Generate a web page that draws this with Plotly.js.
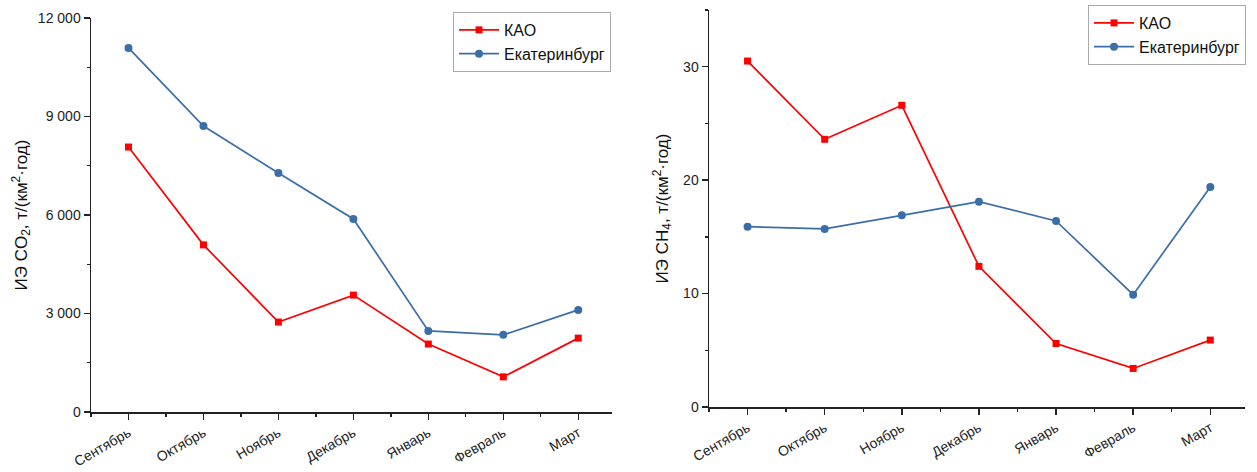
<!DOCTYPE html>
<html><head><meta charset="utf-8">
<script src="https://cdn.plot.ly/plotly-3.0.1.min.js"></script>
<style>html,body{margin:0;padding:0;background:#fff}#chart{width:1257px;height:472px}</style>
</head><body><div id="chart"></div>
<script>
const months = ['Сентябрь','Октябрь','Ноябрь','Декабрь','Январь','Февраль','Март'];
const seriesNames = ['КАО','Екатеринбург'];
const co2_KAO = [8070, 5090, 2740, 3560, 2070, 1070, 2250];
const co2_EKB = [11090, 8710, 7280, 5880, 2470, 2350, 3110];
const ch4_KAO = [30.5, 23.6, 26.6, 12.4, 5.6, 3.4, 5.9];
const ch4_EKB = [15.9, 15.7, 16.9, 18.1, 16.4, 9.9, 19.4];

const idx = months.map((_, i) => i);
const RED = '#ff0000', BLUE = '#3b6ea8';
const font = 'Liberation Sans, Arial, sans-serif';

function tr(y, name, color, sym, xa, ya, leg) {
  return {x: idx, y: y, name: name, type: 'scatter', mode: 'lines+markers',
    xaxis: xa, yaxis: ya, legend: leg,
    line: {color: color, width: 1.7},
    marker: {color: color, symbol: sym, size: sym === 'square' ? 7 : 8}};
}
const data = [
  tr(co2_KAO, seriesNames[0], RED, 'square', 'x', 'y', 'legend'),
  tr(co2_EKB, seriesNames[1], BLUE, 'circle', 'x', 'y', 'legend'),
  tr(ch4_KAO, seriesNames[0], RED, 'square', 'x2', 'y2', 'legend2'),
  tr(ch4_EKB, seriesNames[1], BLUE, 'circle', 'x2', 'y2', 'legend2')
];

function xax(dom, anchor) {
  return {domain: dom, anchor: anchor, range: [-0.5, 6.45], tickvals: idx, ticktext: months,
    tickangle: -30, showgrid: false, zeroline: false, showline: true, linecolor: '#222', linewidth: 1.5,
    ticks: 'outside', ticklen: 6, tickcolor: '#222', tickwidth: 1.5,
    tickfont: {family: font, size: 14, color: '#222'},
    minor: {ticks: 'outside', ticklen: 3, tick0: 0.5, dtick: 1, tickcolor: '#222', tickwidth: 1.3}};
}
function yax(dom, anchor, range, dtick, mdtick, title, standoff) {
  return {domain: dom, anchor: anchor, range: range, dtick: dtick, tick0: 0,
    tickformat: ',d', showgrid: false, zeroline: false, showline: true, linecolor: '#222', linewidth: 1.5,
    ticks: 'outside', ticklen: 6, tickcolor: '#222', tickwidth: 1.5,
    tickfont: {family: font, size: 14, color: '#222'},
    minor: {ticks: 'outside', ticklen: 3, dtick: mdtick, tickcolor: '#222', tickwidth: 1.3},
    title: {text: title, font: {family: font, size: 17, color: '#111'}, standoff: standoff}};
}

const layout = {
  width: 1257, height: 472, paper_bgcolor: '#fff', plot_bgcolor: '#fff',
  margin: {l: 0, r: 0, t: 0, b: 0}, separators: ', ', showlegend: true,
  font: {family: font},
  xaxis: xax([91/1257, 612/1257], 'y'),
  yaxis: yax([1-412/472, 1-18/472], 'x', [0, 12000], 3000, 1500, 'ИЭ CO<sub>2</sub>, т/(км<sup>2</sup>·год)', 6),
  xaxis2: xax([709/1257, 1245/1257], 'y2'),
  yaxis2: yax([1-407/472, 1-10/472], 'x2', [0, 35], 10, 5, 'ИЭ CH<sub>4</sub>, т/(км<sup>2</sup>·год)', 10),
  legend: {x: 453/1257, y: 1-12/472, xanchor: 'left', yanchor: 'top', bgcolor: '#fff',
    bordercolor: '#aaa', borderwidth: 1, font: {family: font, size: 16, color: '#111'},
    tracegroupgap: 0, itemwidth: 40},
  legend2: {x: 1088/1257, y: 1-5/472, xanchor: 'left', yanchor: 'top', bgcolor: '#fff',
    bordercolor: '#aaa', borderwidth: 1, font: {family: font, size: 16, color: '#111'},
    tracegroupgap: 0, itemwidth: 40}
};
Plotly.newPlot('chart', data, layout, {displayModeBar: false, staticPlot: true});
</script></body></html>
